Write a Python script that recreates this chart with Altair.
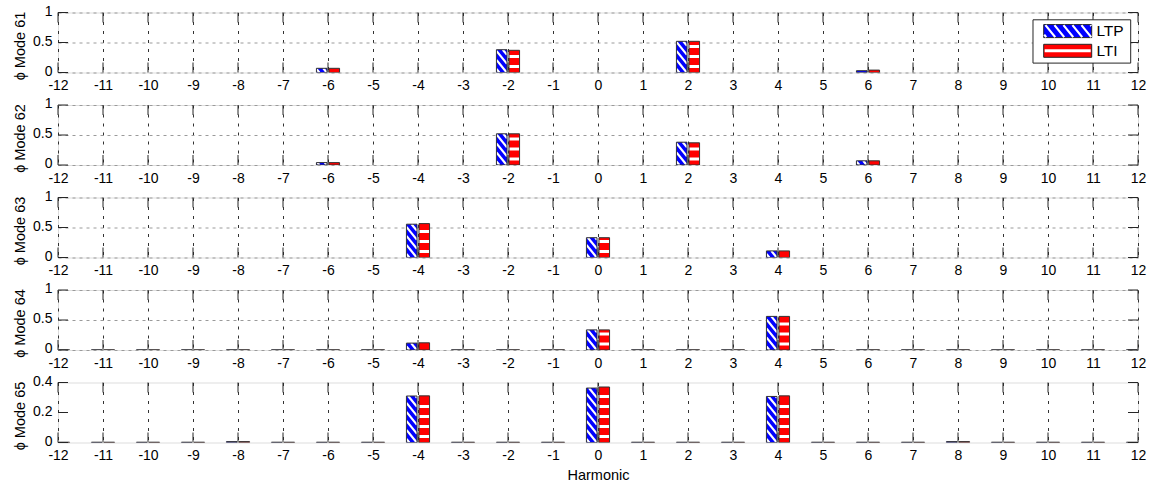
import altair as alt
import pandas as pd

# ---------------- data ----------------
HARMONICS = list(range(-12, 13))
SERIES = ["LTP", "LTI"]
COLORS = ["#0000ff", "#ff0000"]
MODE_TITLES = ["ϕ Mode 61", "ϕ Mode 62", "ϕ Mode 63", "ϕ Mode 64", "ϕ Mode 65"]
Y_MAX = [1.0, 1.0, 1.0, 1.0, 0.4]
Y_TICKS = [[0, 0.5, 1], [0, 0.5, 1], [0, 0.5, 1], [0, 0.5, 1], [0, 0.2, 0.4]]

mode61_h = [-6, -2, 2, 6]
mode61_ltp = [0.07, 0.38, 0.52, 0.03]
mode61_lti = [0.07, 0.37, 0.52, 0.04]

mode62_h = [-6, -2, 2, 6]
mode62_ltp = [0.04, 0.52, 0.38, 0.07]
mode62_lti = [0.04, 0.52, 0.37, 0.07]

mode63_h = [-4, 0, 4]
mode63_ltp = [0.555, 0.33, 0.11]
mode63_lti = [0.565, 0.33, 0.11]

mode64_h = HARMONICS
mode64_ltp = [0.002, 0.002, 0.002, 0.002, 0.002, 0.002, 0.002, 0.002, 0.115, 0.002, 0.002, 0.002,
              0.335, 0.002, 0.002, 0.002, 0.56, 0.002, 0.002, 0.002, 0.002, 0.002, 0.002, 0.002, 0.002]
mode64_lti = [0.002, 0.002, 0.002, 0.002, 0.002, 0.002, 0.002, 0.002, 0.12, 0.002, 0.002, 0.002,
              0.335, 0.002, 0.002, 0.002, 0.56, 0.002, 0.002, 0.002, 0.002, 0.002, 0.002, 0.002, 0.002]

mode65_h = HARMONICS
mode65_ltp = [0.002, 0.002, 0.002, 0.002, 0.006, 0.002, 0.002, 0.002, 0.31, 0.002, 0.002, 0.002,
              0.363, 0.002, 0.002, 0.002, 0.307, 0.002, 0.002, 0.002, 0.006, 0.002, 0.002, 0.002, 0.002]
mode65_lti = [0.002, 0.002, 0.002, 0.002, 0.006, 0.002, 0.002, 0.002, 0.311, 0.002, 0.002, 0.002,
              0.37, 0.002, 0.002, 0.002, 0.311, 0.002, 0.002, 0.002, 0.006, 0.002, 0.002, 0.002, 0.002]

MODES = [
    (mode61_h, mode61_ltp, mode61_lti),
    (mode62_h, mode62_ltp, mode62_lti),
    (mode63_h, mode63_ltp, mode63_lti),
    (mode64_h, mode64_ltp, mode64_lti),
    (mode65_h, mode65_ltp, mode65_lti),
]

# ---------------- styling constants ----------------
W, H = 1080, 60
FONT = "Liberation Sans"
FRAME = "#262626"
BAR_HALF_GAP = 0.022
BAR_W = 0.235
DIAG_PERIOD = 9.0      # px, vertical period of "\" hatch
DIAG_DROP = 13.0       # px drop across a bar width
DIAG_SW = 2.2
HOR_PERIOD = 10.0      # px, horizontal hatch period
HOR_SW = 3.0
LABEL_FS = 14


def bar_table(h, ltp, lti):
    rows = []
    for hh, a, b in zip(h, ltp, lti):
        rows.append(dict(series="LTP", x1=hh - BAR_HALF_GAP - BAR_W, x2=hh - BAR_HALF_GAP, v=a, v2=0.0))
        rows.append(dict(series="LTI", x1=hh + BAR_HALF_GAP, x2=hh + BAR_HALF_GAP + BAR_W, v=b, v2=0.0))
    return pd.DataFrame(rows)


def hatch_table(bars, ymax):
    py = H / ymax  # px per data unit
    rows = []
    for r in bars.itertuples():
        if r.v * py < 2:
            continue
        if r.series == "LTP":
            D = DIAG_DROP / py
            P = DIAG_PERIOD / py
            w = r.x2 - r.x1
            c = P * 0.4
            while c < r.v + D:
                tlo = max(0.0, (c - r.v) / D)
                thi = min(1.0, c / D)
                if thi > tlo:
                    rows.append(dict(series="LTP", x1=r.x1 + tlo * w, x2=r.x1 + thi * w,
                                     v=c - D * tlo, v2=c - D * thi))
                c += P
        else:
            P = HOR_PERIOD / py
            half = HOR_SW / 2 / py
            c = P * 0.6
            while c + half < r.v - 1.0 / py:
                rows.append(dict(series="LTI", x1=r.x1, x2=r.x2, v=c, v2=c))
                c += P
    return pd.DataFrame(rows, columns=["series", "x1", "x2", "v", "v2"])


def legend_diag_path(w, h, k, period):
    segs = []
    x0 = -w / 2 - h / k + 2
    while x0 < w / 2:
        xa, ya = x0, -h / 2
        xb, yb = x0 + h / k, h / 2
        if xa < -w / 2:
            ya = ya + (-w / 2 - xa) * k
            xa = -w / 2
        if xb > w / 2:
            yb = yb - (xb - w / 2) * k
            xb = w / 2
        if xb > xa and yb > ya:
            segs.append(f"M{xa:.2f},{ya:.2f}L{xb:.2f},{yb:.2f}")
        x0 += period
    return "".join(segs)


color_scale = alt.Scale(domain=SERIES, range=COLORS)
tick_df = pd.DataFrame({"x1": HARMONICS})

panels = []
for i, ((h, ltp, lti), title, ymax, yt) in enumerate(zip(MODES, MODE_TITLES, Y_MAX, Y_TICKS)):
    last = i == len(MODES) - 1
    bars = bar_table(h, ltp, lti)
    hatch = hatch_table(bars, ymax)
    xs = alt.Scale(domain=[-12, 12], nice=False, zero=False)
    ys = alt.Scale(domain=[0, ymax], nice=False, zero=True)

    x_axis = alt.Axis(values=HARMONICS, labelExpr="'' + datum.value", grid=True, gridDash=[3, 6],
                      gridColor="#333333", gridOpacity=1, gridWidth=1, ticks=False, domain=False,
                      labelFlush=False, labelPadding=6, labelFontSize=LABEL_FS, labelColor="#000",
                      labelFont=FONT, title="Harmonic" if last else None, titleFont=FONT,
                      titleFontSize=14.5, titleFontWeight="normal", titleColor="#000", titleX=W / 2,
                      titleY=33, titleBaseline="middle", titleAlign="center")
    y_axis = alt.Axis(values=yt, labelExpr="'' + datum.value", grid=not last, gridDash=[3, 4],
                      gridColor="#9a9a9a", gridOpacity=1, ticks=False, domain=False, labelFlush=False,
                      labelPadding=6, labelOffset=-1.5, labelFontSize=LABEL_FS, labelColor="#000",
                      labelFont=FONT, title=title, titleFont=FONT, titleFontSize=14.5,
                      titleFontWeight="normal", titleColor="#000", titleAngle=270, titleX=-38,
                      titleY=H / 2 + 3, titleAlign="center", titleBaseline="middle")

    X = alt.X("x1:Q", scale=xs, axis=x_axis)
    Y = alt.Y("v:Q", scale=ys, axis=y_axis)

    base_bars = alt.Chart(bars)
    fill = base_bars.mark_rect(strokeWidth=0, clip=True).encode(
        x=X, x2="x2:Q", y=Y, y2="v2:Q",
        color=alt.Color("series:N", scale=color_scale, legend=None),
    )
    outline = base_bars.mark_rect(fillOpacity=0, stroke="#333333", strokeWidth=1, clip=True).encode(
        x=X, x2="x2:Q", y=Y, y2="v2:Q",
    )
    stripes = alt.Chart(hatch).mark_rule(color="white", strokeCap="butt", clip=True).encode(
        x=X, x2="x2:Q", y=Y, y2="v2:Q",
        strokeWidth=alt.condition(alt.datum.series == "LTP", alt.value(DIAG_SW), alt.value(HOR_SW)),
    )
    tick_top = alt.Chart(tick_df).mark_rule(color=FRAME, strokeWidth=1).encode(
        x=X, y=alt.value(0), y2=alt.value(10))
    tick_bot = alt.Chart(tick_df).mark_rule(color=FRAME, strokeWidth=1).encode(
        x=X, y=alt.value(H - 10), y2=alt.value(H))
    ytick_df = pd.DataFrame({"v": yt})
    ytick_l = alt.Chart(ytick_df).mark_rule(color=FRAME, strokeWidth=1).encode(
        y=Y, x=alt.value(0), x2=alt.value(10))
    ytick_r = alt.Chart(ytick_df).mark_rule(color=FRAME, strokeWidth=1).encode(
        y=Y, x=alt.value(W - 10), x2=alt.value(W))

    layers = [fill, stripes, outline, tick_top, tick_bot, ytick_l, ytick_r]

    if i == 0:
        leg_df = pd.DataFrame({"series": SERIES})
        lx0, lx1, ly0, ly1 = 975, 1072.7, 7.3, 50.6
        box = alt.Chart(leg_df).transform_filter(alt.datum.series == SERIES[0]).mark_rect(
            fill="white", stroke=FRAME, strokeWidth=1).encode(
            x=alt.value(lx0), x2=alt.value(lx1), y=alt.value(ly0), y2=alt.value(ly1))
        cx, pw, ph = 1009.7, 48, 13
        ys_leg = [18.6, 38.3]
        layers.append(box)
        for s, col, yy in zip(SERIES, COLORS, ys_leg):
            one = alt.Chart(leg_df).transform_filter(alt.datum.series == s)
            layers.append(one.mark_rect(fill=col, stroke=FRAME, strokeWidth=1).encode(
                x=alt.value(cx - pw / 2), x2=alt.value(cx + pw / 2),
                y=alt.value(yy - ph / 2), y2=alt.value(yy + ph / 2)))
            if s == "LTP":
                path = legend_diag_path(pw - 1, ph - 1, DIAG_DROP / (W / 24 * BAR_W), 9)
                layers.append(one.mark_point(shape=path, size=4, filled=False, color="white",
                                             strokeWidth=DIAG_SW, opacity=1).encode(
                    x=alt.value(cx), y=alt.value(yy)))
            else:
                layers.append(one.mark_rule(color="white", strokeWidth=HOR_SW).encode(
                    x=alt.value(cx - pw / 2 + 1), x2=alt.value(cx + pw / 2 - 1), y=alt.value(yy)))
            layers.append(one.mark_text(align="left", baseline="middle", font=FONT, fontSize=15.5,
                                        color="#000").encode(
                x=alt.value(1038.4), y=alt.value(yy), text="series:N"))

    panels.append(alt.layer(*layers).properties(width=W, height=H))

chart = alt.vconcat(*panels, spacing=32.5, bounds="flush").properties(
    padding={"left": 11, "top": 3.5, "right": 5, "bottom": 5},
    background="white",
).configure_view(stroke=FRAME, strokeWidth=1).configure(font=FONT)

chart.save("out.html", embed_options={"renderer": "svg", "actions": False})
